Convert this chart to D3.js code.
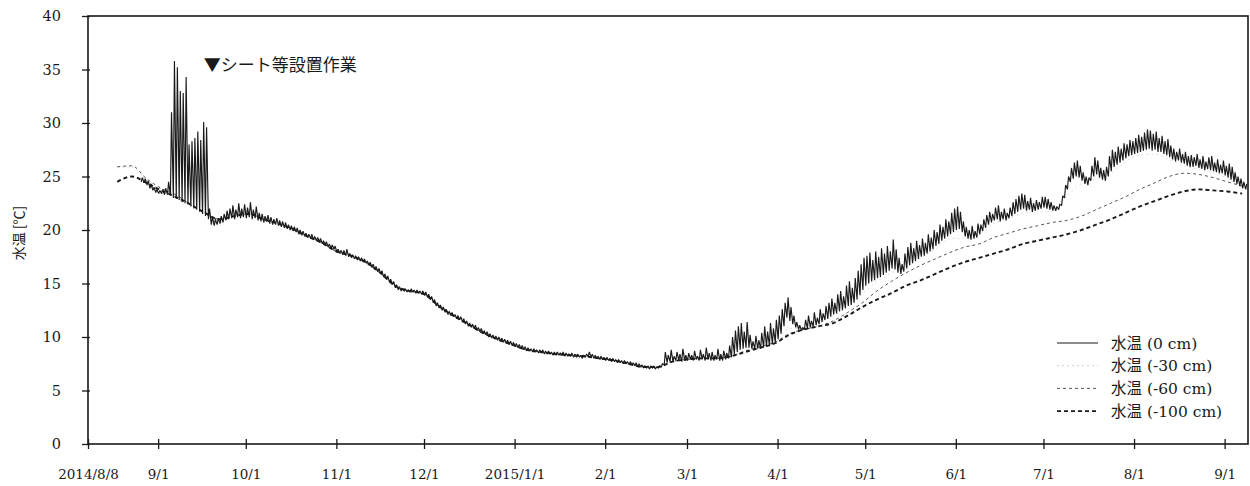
<!DOCTYPE html>
<html>
<head>
<meta charset="utf-8">
<script src="https://cdn.jsdelivr.net/npm/d3@7"></script>
<style>
  body { margin: 0; background: #fff; }
  svg text { fill: #1a1a1a; }
</style>
</head>
<body>
<svg id="chart" width="1250" height="486"></svg>
<script>
// ---- surface (0 cm) water temperature: daily [low, high], one array per month ----
const sfc1408 = [[24.5,24.9],[24.4,24.8],[24.2,24.6],[23.9,24.3],[23.7,24.0],[23.5,23.8]];
const sfc1409 = [[23.4,23.7],[23.4,23.8],[23.3,23.9],[23.3,24.5],[23.2,31.0],[23.0,35.8],[22.9,35.2],[22.8,33.0],[22.6,32.8],[22.5,34.3],
                 [22.4,28.0],[22.2,28.3],[22.0,28.6],[21.9,29.2],[21.7,28.4],[21.5,30.1],[21.3,29.6],[21.0,22.0],[20.5,21.2],[20.4,21.0],
                 [20.5,21.1],[20.6,21.3],[20.7,21.5],[20.9,21.8],[21.0,22.0],[21.1,22.3],[21.0,21.9],[21.2,22.5],[21.1,22.0],[21.2,22.4]];
const sfc1410 = [[21.1,22.1],[21.2,22.6],[21.0,21.9],[21.1,22.2],[20.9,21.6],[20.8,21.5],[20.7,21.3],[20.8,21.4],[20.6,21.2],[20.5,21.0],
                 [20.5,21.1],[20.4,20.9],[20.3,20.8],[20.2,20.7],[20.1,20.5],[20.0,20.4],[19.9,20.3],[19.8,20.2],[19.6,20.0],[19.5,19.9],
                 [19.4,19.7],[19.3,19.6],[19.2,19.6],[19.1,19.4],[19.0,19.3],[18.9,19.2],[18.7,19.0],[18.6,18.9],[18.4,18.7],[18.3,18.6],[18.2,18.5]];
const sfc1411 = [[17.9,18.2],[17.8,18.1],[17.7,18.1],[17.6,18.2],[17.5,17.8],[17.4,17.7],[17.3,17.6],[17.2,17.5],[17.1,17.4],[17.0,17.3],
                 [16.9,17.1],[16.7,17.0],[16.5,16.8],[16.3,16.6],[16.1,16.4],[15.9,16.2],[15.6,15.9],[15.4,15.7],[15.1,15.4],[14.9,15.2],
                 [14.6,14.9],[14.4,14.7],[14.3,14.5],[14.3,14.5],[14.2,14.4],[14.2,14.5],[14.2,14.4],[14.1,14.4],[14.1,14.3],[14.0,14.3]];
const sfc1412 = [[13.9,14.2],[13.7,14.0],[13.5,13.8],[13.2,13.5],[12.9,13.2],[12.7,13.0],[12.5,12.8],[12.3,12.6],[12.1,12.4],[12.0,12.3],
                 [11.9,12.1],[11.7,12.0],[11.6,11.9],[11.4,11.7],[11.2,11.5],[11.0,11.3],[10.9,11.2],[10.8,11.1],[10.6,10.9],[10.5,10.8],
                 [10.3,10.6],[10.2,10.5],[10.0,10.3],[9.9,10.2],[9.8,10.1],[9.7,10.0],[9.6,9.9],[9.5,9.8],[9.4,9.7],[9.3,9.6],[9.2,9.5]];
const sfc1501 = [[9.1,9.4],[9.0,9.3],[8.9,9.2],[8.8,9.1],[8.7,9.0],[8.7,8.9],[8.6,8.9],[8.6,8.8],[8.5,8.8],[8.5,8.8],
                 [8.4,8.7],[8.4,8.7],[8.4,8.6],[8.3,8.6],[8.3,8.6],[8.3,8.5],[8.3,8.6],[8.2,8.5],[8.2,8.4],[8.2,8.5],
                 [8.1,8.4],[8.1,8.4],[8.1,8.3],[8.0,8.3],[8.1,8.4],[8.2,8.6],[8.1,8.4],[8.0,8.3],[8.0,8.2],[7.9,8.2],[7.9,8.1]];
const sfc1502 = [[7.8,8.1],[7.8,8.0],[7.7,8.0],[7.7,7.9],[7.6,7.9],[7.6,7.8],[7.5,7.8],[7.5,7.7],[7.4,7.7],[7.4,7.6],
                 [7.3,7.6],[7.2,7.5],[7.2,7.4],[7.1,7.3],[7.1,7.3],[7.0,7.3],[7.1,7.3],[7.0,7.2],[7.1,7.3],[7.2,7.5],
                 [7.4,8.6],[7.6,8.3],[7.7,8.8],[7.7,8.2],[7.8,8.6],[7.8,8.4],[7.7,8.9],[7.8,8.3]];
const sfc1503 = [[7.8,8.5],[7.9,8.3],[7.8,8.7],[7.9,8.2],[7.8,8.8],[7.9,8.4],[7.8,9.0],[7.9,8.5],[7.8,8.6],[7.8,8.3],
                 [7.9,8.9],[7.8,8.4],[7.8,8.7],[7.9,8.5],[8.0,9.2],[8.1,10.0],[8.4,10.6],[8.6,11.0],[8.8,11.3],[8.9,10.5],
                 [9.0,11.4],[9.0,10.2],[8.9,9.6],[8.9,10.1],[8.9,9.7],[8.9,10.4],[9.0,11.0],[9.1,10.5],[9.2,11.3],[9.3,10.8],[9.5,11.6]];
const sfc1504 = [[9.8,12.0],[10.3,12.6],[11.0,13.2],[11.8,13.7],[11.5,12.8],[11.2,12.0],[10.9,11.4],[10.7,11.1],[10.6,10.9],[10.7,11.6],
                 [10.8,12.0],[10.9,11.5],[11.0,12.3],[11.1,11.8],[11.2,12.6],[11.4,12.2],[11.6,12.9],[11.7,13.2],[11.9,13.6],[12.1,13.2],
                 [12.2,14.0],[12.4,14.3],[12.5,13.8],[12.7,14.8],[12.9,15.2],[13.0,14.6],[13.2,15.5],[13.5,16.2],[13.9,16.8],[14.4,17.4]];
const sfc1505 = [[14.8,17.6],[15.0,17.9],[15.2,17.2],[15.3,18.0],[15.5,17.5],[15.6,18.3],[15.8,17.8],[16.0,18.5],[16.2,18.0],[16.4,19.1],
                 [16.3,18.2],[16.0,17.4],[15.9,16.8],[16.1,17.8],[16.4,18.4],[16.7,18.8],[16.9,18.3],[17.1,19.0],[17.3,18.6],[17.5,19.2],
                 [17.6,18.8],[17.8,19.6],[18.0,19.3],[18.2,20.0],[18.5,19.8],[18.7,20.5],[19.0,20.3],[19.2,21.0],[19.4,20.8],[19.6,21.6],[19.8,22.0]];
const sfc1506 = [[20.0,22.2],[20.1,21.7],[19.8,20.8],[19.4,20.3],[19.2,20.0],[19.1,20.4],[19.2,19.9],[19.3,20.6],[19.6,20.5],[19.9,21.0],
                 [20.2,21.4],[20.5,21.7],[20.7,21.5],[20.9,22.1],[21.0,22.3],[20.8,21.7],[21.0,22.0],[20.9,21.6],[21.1,22.1],[21.3,22.6],
                 [21.5,22.9],[21.7,23.2],[21.9,23.4],[22.0,23.3],[21.8,22.7],[21.9,23.0],[21.7,22.5],[21.8,22.8],[21.9,22.6],[22.0,23.1]];
const sfc1507 = [[22.1,23.1],[22.0,22.9],[21.9,22.6],[21.8,22.3],[21.8,22.2],[21.9,22.4],[22.3,23.2],[23.0,24.2],[23.8,25.0],[24.5,25.8],
                 [24.8,26.3],[25.0,26.5],[24.9,26.0],[24.6,25.4],[24.3,25.0],[24.2,24.9],[24.6,26.0],[25.0,26.8],[25.2,26.5],[24.9,25.8],
                 [24.7,25.6],[24.6,25.9],[25.0,26.9],[25.5,27.5],[25.9,27.3],[26.1,27.8],[26.3,27.6],[26.5,28.1],[26.7,28.0],[26.9,28.4],[27.0,28.3]];
const sfc1508 = [[27.1,28.6],[27.2,28.9],[27.3,28.7],[27.4,29.1],[27.5,29.4],[27.6,29.3],[27.4,29.0],[27.5,29.2],[27.3,28.6],[27.3,28.8],
                 [27.1,28.3],[27.0,28.5],[26.8,27.9],[26.6,27.6],[26.4,27.3],[26.5,27.6],[26.3,27.1],[26.2,27.3],[26.0,26.9],[25.9,27.0],
                 [25.9,26.8],[26.0,27.1],[25.8,26.6],[25.7,26.9],[25.6,26.4],[25.7,26.8],[25.6,26.9],[25.5,26.3],[25.4,26.6],[25.3,26.1],[25.3,26.5]];
const sfc1509 = [[25.1,26.0],[24.9,26.2],[24.7,25.9],[24.5,25.4],[24.3,25.0],[24.1,24.8],[23.9,24.5],[23.8,24.3]];

const sfcStarts = ["2014-08-26","2014-09-01","2014-10-01","2014-11-01","2014-12-01","2015-01-01","2015-02-01",
                   "2015-03-01","2015-04-01","2015-05-01","2015-06-01","2015-07-01","2015-08-01","2015-09-01"];
const sfcMonths = [sfc1408, sfc1409, sfc1410, sfc1411, sfc1412, sfc1501, sfc1502,
                   sfc1503, sfc1504, sfc1505, sfc1506, sfc1507, sfc1508, sfc1509];

// ---- buried sensors: one reading every 5 days from 2014-08-18 ----
const deepStart = "2014-08-18";
const deepStepDays = 5;
const t30 = [25.8,25.9,24.6,23.8,23.2,22.4,21.6,21.0,21.3,21.5,21.0,20.6,20.1,19.4,18.8,18.0,17.6,17.0,16.0,14.8,
             14.3,14.0,12.9,12.0,11.2,10.4,9.8,9.3,8.8,8.6,8.4,8.3,8.2,8.0,7.8,7.5,7.2,7.2,7.7,7.9,
             8.0,8.0,8.2,9.0,9.1,9.6,10.8,10.8,11.3,12.0,12.8,14.0,15.2,16.0,16.5,17.4,18.2,19.2,19.2,19.5,
             20.6,21.0,21.6,21.7,21.7,23.2,24.3,24.8,25.3,26.4,27.0,27.1,26.6,26.0,25.7,25.4,24.8,23.9];
const t60 = [25.9,26.0,24.8,23.9,23.3,22.4,21.6,21.0,21.3,21.5,21.0,20.6,20.1,19.4,18.8,18.0,17.6,17.0,16.0,14.8,
             14.3,14.0,12.9,12.0,11.2,10.4,9.8,9.3,8.8,8.6,8.4,8.3,8.2,8.0,7.8,7.5,7.2,7.2,7.7,7.9,
             8.0,8.0,8.2,8.7,9.1,9.5,10.3,10.7,11.0,11.5,12.3,13.2,14.3,15.2,16.0,16.7,17.3,17.9,18.4,18.7,
             19.3,19.7,20.1,20.4,20.7,20.9,21.3,21.9,22.5,23.1,23.8,24.4,25.0,25.3,25.2,24.9,24.5,24.1];
const t100 = [24.5,25.0,24.4,23.7,23.1,22.4,21.6,21.0,21.3,21.5,21.0,20.6,20.1,19.4,18.8,18.0,17.6,17.0,16.0,14.8,
              14.3,14.0,12.9,12.0,11.2,10.4,9.8,9.3,8.8,8.6,8.4,8.3,8.2,8.0,7.8,7.5,7.2,7.2,7.7,7.9,
              8.0,8.0,8.2,8.6,9.0,9.4,10.2,10.7,11.0,11.3,12.0,12.8,13.5,14.1,14.8,15.3,15.9,16.5,17.0,17.4,
              17.8,18.2,18.7,19.0,19.3,19.6,20.0,20.5,21.0,21.6,22.2,22.7,23.2,23.6,23.8,23.7,23.6,23.4];

// ---- axes ----
const yTicks = [0, 5, 10, 15, 20, 25, 30, 35, 40];
const xTickDates = ["2014-08-08","2014-09-01","2014-10-01","2014-11-01","2014-12-01","2015-01-01","2015-02-01",
                    "2015-03-01","2015-04-01","2015-05-01","2015-06-01","2015-07-01","2015-08-01","2015-09-01"];
const xTickLabels = ["2014/8/8","9/1","10/1","11/1","12/1","2015/1/1","2/1","3/1","4/1","5/1","6/1","7/1","8/1","9/1"];
const xDomain = ["2014-08-08","2015-09-09"];

const legendLabels = ["水温 (0 cm)", "水温 (-30 cm)", "水温 (-60 cm)", "水温 (-100 cm)"];
const yTitle = "水温 [℃]";
const noteText = "▼シート等設置作業";
const noteDate = "2014-09-18";
const noteValue = 35.0;

// ---------------------------------------------------------------
const parse = d3.utcParse("%Y-%m-%d");
const svg = d3.select("#chart");
const L = 88, R = 1248, T = 16, B = 444;
const serif = "'DejaVu Serif', 'Noto Sans CJK JP', serif";
const cjk = "'Noto Sans CJK JP', 'DejaVu Serif', sans-serif";

const x = d3.scaleUtc().domain(xDomain.map(parse)).range([L, R]);
const y = d3.scaleLinear().domain([0, 40]).range([B, T]);

// surface series: night low then afternoon high for each day
const sfcPts = [];
sfcMonths.forEach((m, i) => {
  const s = parse(sfcStarts[i]);
  m.forEach((d, j) => {
    const day = d3.utcDay.offset(s, j);
    sfcPts.push({ t: d3.utcHour.offset(day, 5), v: d[0] });
    sfcPts.push({ t: d3.utcHour.offset(day, 14), v: d[1] });
  });
});

const deepPts = arr => arr.map((v, i) => ({ t: d3.utcDay.offset(parse(deepStart), i * deepStepDays), v }));

const lineSharp = d3.line().x(d => x(d.t)).y(d => y(d.v));
const lineSmooth = d3.line().x(d => x(d.t)).y(d => y(d.v)).curve(d3.curveMonotoneX);

const plot = svg.append("g");
plot.append("clipPath").attr("id", "clip")
  .append("rect").attr("x", L).attr("y", T).attr("width", R - L).attr("height", B - T);
const series = plot.append("g").attr("clip-path", "url(#clip)");

const styles = [
  { color: "#1a1a1a", width: 1.15, dash: null },
  { color: "#e0e0e0", width: 1.0, dash: "2,3" },
  { color: "#555555", width: 1.0, dash: "3,3" },
  { color: "#1a1a1a", width: 1.9, dash: "4,3" }
];

series.append("path").datum(deepPts(t30)).attr("d", lineSmooth)
  .attr("fill", "none").attr("stroke", styles[1].color).attr("stroke-width", styles[1].width).attr("stroke-dasharray", styles[1].dash);
series.append("path").datum(deepPts(t60)).attr("d", lineSmooth)
  .attr("fill", "none").attr("stroke", styles[2].color).attr("stroke-width", styles[2].width).attr("stroke-dasharray", styles[2].dash);
series.append("path").datum(deepPts(t100)).attr("d", lineSmooth)
  .attr("fill", "none").attr("stroke", styles[3].color).attr("stroke-width", styles[3].width).attr("stroke-dasharray", styles[3].dash);
series.append("path").datum(sfcPts).attr("d", lineSharp)
  .attr("fill", "none").attr("stroke", styles[0].color).attr("stroke-width", styles[0].width)
  .attr("stroke-linejoin", "miter").attr("stroke-miterlimit", 2);

// y axis
const gy = svg.append("g").attr("transform", `translate(${L},0)`)
  .call(d3.axisLeft(y).tickValues(yTicks).tickSizeInner(6).tickSizeOuter(0).tickPadding(21).tickFormat(d3.format("d")));
gy.select(".domain").remove();
gy.selectAll(".tick line").attr("x1", 2).attr("stroke", "#1a1a1a").attr("stroke-width", 1.3);
gy.selectAll(".tick text").attr("font-family", serif).attr("font-size", 14.5).attr("fill", "#1a1a1a");

// x axis
const gx = svg.append("g").attr("transform", `translate(0,${B})`)
  .call(d3.axisBottom(x).tickValues(xTickDates.map(parse)).tickSizeInner(5).tickSizeOuter(0).tickPadding(20)
    .tickFormat((d, i) => xTickLabels[i]));
gx.select(".domain").remove();
gx.selectAll(".tick line").attr("y1", -5).attr("stroke", "#1a1a1a").attr("stroke-width", 1.3);
gx.selectAll(".tick text").attr("font-family", serif).attr("font-size", 13.5).attr("fill", "#1a1a1a");

// frame
svg.append("rect").attr("x", L).attr("y", T).attr("width", R - L).attr("height", B - T)
  .attr("fill", "none").attr("stroke", "#1a1a1a").attr("stroke-width", 1.6);

// y title
svg.append("text").attr("transform", `translate(24,233) rotate(-90)`)
  .attr("text-anchor", "middle").attr("font-family", cjk).attr("font-size", 14).text(yTitle);

// work annotation
svg.append("text").attr("x", x(parse(noteDate)) - 4).attr("y", y(noteValue) + 1)
  .attr("font-family", cjk).attr("font-size", 17).text(noteText);

// legend
const legend = svg.append("g");
legendLabels.forEach((lab, i) => {
  const ly = 343 + i * 22.7;
  const st = styles[i];
  legend.append("line").attr("x1", 1057).attr("x2", 1098).attr("y1", ly).attr("y2", ly)
    .attr("stroke", i === 1 ? "#d0d0d0" : st.color).attr("stroke-width", st.width).attr("stroke-dasharray", st.dash);
  legend.append("text").attr("x", 1111).attr("y", ly + 5.5)
    .attr("font-family", serif).attr("font-size", 15.5).text(lab);
});
</script>
</body>
</html>
